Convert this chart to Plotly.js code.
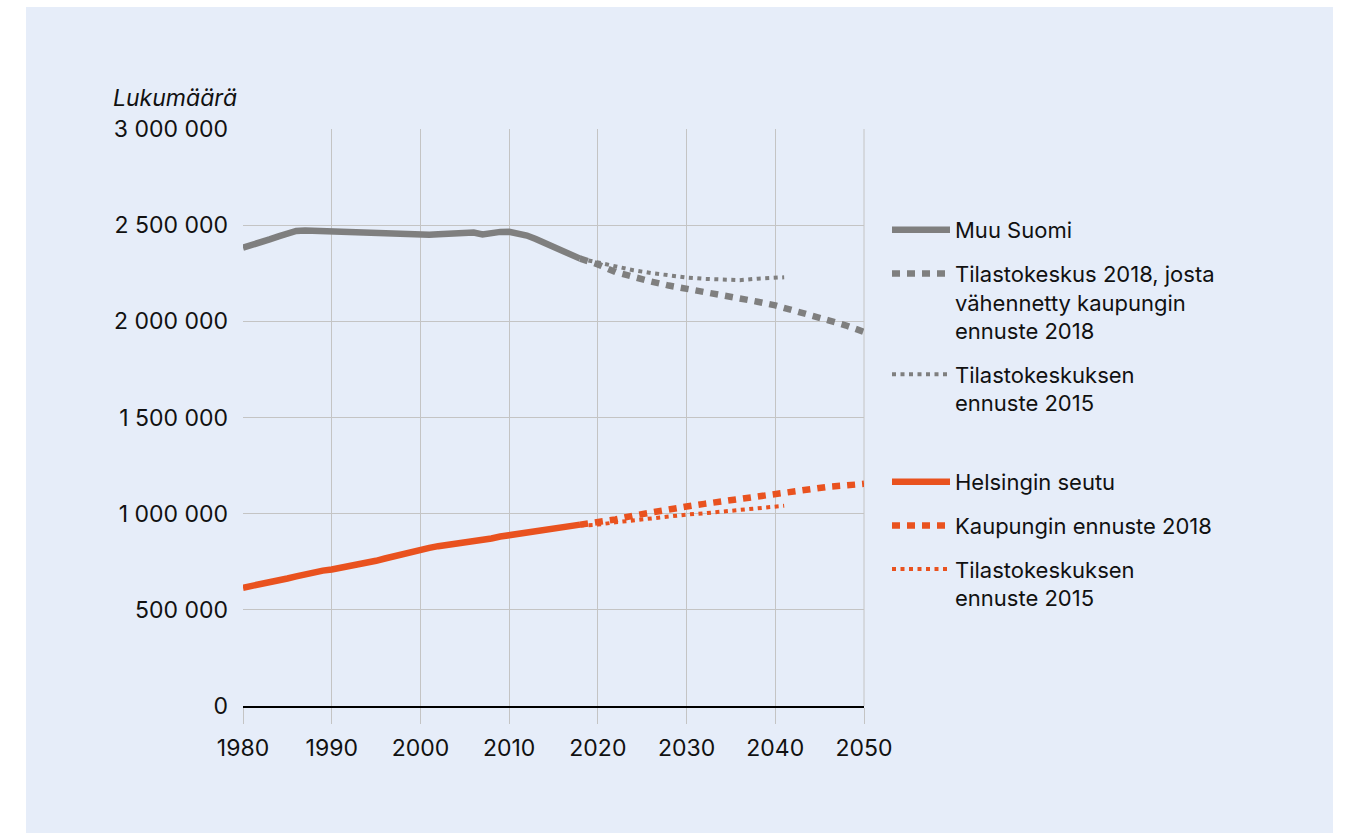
<!DOCTYPE html>
<html>
<head>
<meta charset="utf-8">
<script src="https://cdn.plot.ly/plotly-3.0.1.min.js"></script>
<style>html,body{margin:0;padding:0;background:#fff;}#chart{width:1349px;height:833px;}</style>
</head>
<body>
<div id="chart"></div>
<script>
// ---- Data ----
const histYears = [1980,1981,1982,1983,1984,1985,1986,1987,1988,1989,1990,1991,1992,1993,1994,1995,1996,1997,1998,1999,2000,2001,2002,2003,2004,2005,2006,2007,2008,2009,2010,2011,2012,2013,2014,2015,2016,2017,2018];
const muuSuomi = [2383000,2395000,2410000,2426000,2442000,2460000,2470000,2472000,2470000,2466000,2465000,2464000,2462000,2463000,2462000,2461000,2458000,2454000,2452000,2451000,2450000,2450000,2453000,2457000,2458000,2458000,2462000,2452000,2460000,2465000,2466000,2460000,2446000,2428000,2408000,2388000,2368000,2348000,2326000];
const helsinginSeutu = [615000,623000,632000,642000,652000,663000,674000,685000,697000,704000,710000,718000,727000,736000,745000,755000,767000,779000,792000,801000,810000,822000,831000,837000,842000,847000,853000,861000,871000,881000,888000,894000,900000,908000,915000,922000,929000,937000,943000];

const fc2018Years = [2018,2020,2022,2024,2026,2028,2030,2032,2034,2036,2038,2040,2042,2044,2046,2048,2050];
const muuSuomiTK2018 = [2326000,2296000,2256000,2228000,2207000,2186000,2170000,2156000,2142000,2121000,2102000,2083000,2059000,2033000,2005000,1978000,1945000];
const helsinkiKaupunki2018 = [943000,955000,970000,990000,1008000,1023000,1037000,1051000,1064000,1078000,1092000,1108000,1121000,1131000,1140000,1147000,1155000];

const fc2015Years = [2018,2020,2022,2024,2026,2028,2030,2032,2034,2036,2038,2040,2041];
const muuSuomiTK2015 = [2326000,2305000,2284000,2266000,2251000,2238000,2228000,2221000,2215000,2214000,2222000,2228000,2229000];
const helsinkiTK2015 = [938000,943000,955000,966000,976000,986000,995000,1002000,1010000,1019000,1028000,1037000,1041000];

const xTickVals = [1980,1990,2000,2010,2020,2030,2040,2050];
const yTickVals = [0,500000,1000000,1500000,2000000,2500000,3000000];
const yTickText = ['0','500 000','1 000 000','1 500 000','2 000 000','2 500 000','3 000 000'];

const names = {
  muu: 'Muu Suomi',
  muu18: 'Tilastokeskus 2018, josta<br>vähennetty kaupungin<br>ennuste 2018',
  muu15: 'Tilastokeskuksen<br>ennuste 2015',
  hel: 'Helsingin seutu',
  hel18: 'Kaupungin ennuste 2018',
  hel15: 'Tilastokeskuksen<br>ennuste 2015'
};

const GREY = '#7f7f7f';
const ORANGE = '#e9521f';
const FONT = 'Inter, "Noto Sans", sans-serif';

const traces = [
  {x: fc2015Years, y: muuSuomiTK2015, name: names.muu15, legend: 'legend', legendgroup: 'g3', legendrank: 3,
   mode: 'lines', line: {color: GREY, width: 4, dash: '4px,4.5px'}},
  {x: fc2018Years, y: muuSuomiTK2018, name: names.muu18, legend: 'legend', legendgroup: 'g2', legendrank: 2,
   mode: 'lines', line: {color: GREY, width: 6.5, dash: '8px,7px'}},
  {x: histYears, y: muuSuomi, name: names.muu, legend: 'legend', legendgroup: 'g1', legendrank: 1,
   mode: 'lines', line: {color: GREY, width: 6.5}},
  {x: fc2015Years, y: helsinkiTK2015, name: names.hel15, legend: 'legend2', legendgroup: 'h3', legendrank: 3,
   mode: 'lines', line: {color: ORANGE, width: 4, dash: '4px,4.5px'}},
  {x: fc2018Years, y: helsinkiKaupunki2018, name: names.hel18, legend: 'legend2', legendgroup: 'h2', legendrank: 2,
   mode: 'lines', line: {color: ORANGE, width: 6.5, dash: '8px,7px'}},
  {x: histYears, y: helsinginSeutu, name: names.hel, legend: 'legend2', legendgroup: 'h1', legendrank: 1,
   mode: 'lines', line: {color: ORANGE, width: 6.5}}
];

// plot area in px: x 243..864, y 129..706
const W = 1349, H = 833;
const L = 243, R = 864, T = 129, B = 706;
const pw = R - L, ph = B - T;
const px2x = p => (p - L) / pw;
const py2y = p => (B - p) / ph;

const legendCommon = {
  font: {family: FONT, size: 22, color: '#111'},
  bgcolor: 'rgba(0,0,0,0)', borderwidth: 0,
  xanchor: 'left', yanchor: 'top', valign: 'top',
  tracegroupgap: 12, itemwidth: 58, traceorder: 'grouped',
  itemclick: false, itemdoubleclick: false
};

const layout = {
  width: W, height: H,
  margin: {l: L, r: W - R, t: T, b: H - B, pad: 0},
  paper_bgcolor: '#ffffff',
  plot_bgcolor: 'rgba(0,0,0,0)',
  font: {family: FONT, size: 22, color: '#111'},
  showlegend: true,
  legend: Object.assign({}, legendCommon, {x: px2x(887), y: py2y(209)}),
  legend2: Object.assign({}, legendCommon, {x: px2x(887), y: py2y(461)}),
  xaxis: {
    range: [1980, 2050], tickmode: 'array', tickvals: xTickVals,
    showgrid: true, gridcolor: '#c4c4c4', gridwidth: 1,
    zeroline: false, showline: true, linecolor: '#000', linewidth: 2,
    ticks: 'outside', ticklen: 16, tickcolor: '#c4c4c4', tickwidth: 1,
    ticklabelstandoff: 4,
    tickfont: {family: FONT, size: 23, color: '#111'}, fixedrange: true
  },
  yaxis: {
    range: [0, 3000000], tickmode: 'array', tickvals: yTickVals, ticktext: yTickText,
    showgrid: true, gridcolor: '#c4c4c4', gridwidth: 1,
    zeroline: false, showline: false, ticks: '',
    ticklabelstandoff: 14,
    tickfont: {family: FONT, size: 23, color: '#111'}, fixedrange: true
  },
  shapes: [
    {type: 'rect', xref: 'paper', yref: 'paper', layer: 'below',
     x0: px2x(26), x1: px2x(1333), y0: py2y(833), y1: py2y(7),
     fillcolor: '#e6edf9', line: {width: 0}},
    {type: 'line', xref: 'paper', yref: 'paper', layer: 'below',
     x0: 1, x1: 1, y0: 0, y1: 1, line: {color: '#c4c4c4', width: 1}}
  ],
  annotations: [
    {text: '<i>Lukumäärä</i>', xref: 'paper', yref: 'paper', x: px2x(111), y: py2y(98),
     xanchor: 'left', yanchor: 'middle', showarrow: false,
     font: {family: FONT, size: 23, color: '#111'}}
  ]
};

Plotly.newPlot('chart', traces, layout, {staticPlot: true, displayModeBar: false});
</script>
</body>
</html>
